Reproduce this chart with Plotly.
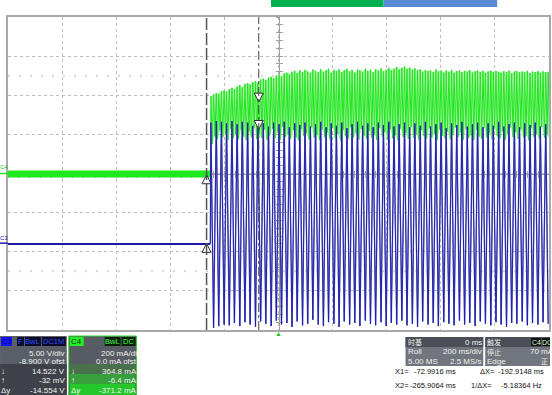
import plotly.graph_objects as go

# ---------------- data read from the screen ----------------
# time axis in ms (200 ms/div, 10 div), C4 in mA (200 mA/div), C3 in V (5 V/div, -8.9 V offset)
t_pre = [-1000, -252]
green_pre_ma = [-3, -3]
blue_pre_v = [-0.1, -0.1]

quarter_t = [
    -250, -245, -240, -235, -230, -225, -221, -216, -211, -206, -201, -196,
    -192, -187, -182, -177, -172, -167, -163, -158, -153, -148, -143, -138,
    -134, -129, -124, -119, -114, -109, -105, -100, -95, -90, -85, -80,
    -76, -71, -66, -61, -56, -51, -47, -42, -37, -32, -27, -22,
    -18, -13, -8, -3, 2, 7, 11, 16, 21, 26, 31, 36,
    40, 45, 50, 55, 60, 65, 69, 74, 79, 84, 89, 94,
    98, 103, 108, 113, 118, 123, 127, 132, 137, 142, 147, 152,
    156, 161, 166, 171, 176, 181, 185, 190, 195, 200, 205, 210,
    214, 219, 224, 229, 234, 239, 243, 248, 253, 258, 263, 268,
    272, 277, 282, 287, 292, 297, 301, 306, 311, 316, 321, 326,
    330, 335, 340, 345, 350, 355, 359, 364, 369, 374, 379, 384,
    388, 393, 398, 403, 408, 413, 417, 422, 427, 432, 437, 442,
    446, 451, 456, 461, 466, 471, 475, 480, 485, 490, 495, 500,
    504, 509, 514, 519, 524, 529, 533, 538, 543, 548, 553, 558,
    562, 567, 572, 577, 582, 587, 591, 596, 601, 606, 611, 616,
    620, 625, 630, 635, 640, 645, 649, 654, 659, 664, 669, 674,
    678, 683, 688, 693, 698, 703, 707, 712, 717, 722, 727, 732,
    736, 741, 746, 751, 756, 761, 765, 770, 775, 780, 785, 790,
    794, 799, 804, 809, 814, 819, 823, 828, 833, 838, 843, 848,
    852, 857, 862, 867, 872, 877, 881, 886, 891, 896, 901, 906,
    910, 915, 920, 925, 930, 935, 939, 944, 949, 954, 959, 964,
    968, 973, 978, 983, 988, 993, 997, 1002,
]

green_peak_ma = [
    395, 405, 412, 408, 420, 425, 418, 432, 438, 430,
    445, 452, 440, 458, 462, 455, 468, 472, 465, 480,
    485, 478, 490, 494, 486, 500, 505, 496, 512, 515,
    508, 520, 525, 512, 528, 518, 530, 522, 515, 532,
    525, 518, 534, 520, 528, 536, 515, 530, 524, 533,
    518, 529, 535, 522, 530, 516, 533, 527, 520, 536,
    524, 531, 518, 534, 526, 538, 522, 530, 540, 528,
    536, 545, 532, 540, 548, 535, 542, 530, 538, 526,
    534, 520, 530, 524, 528, 518, 532, 522, 527, 516,
    526, 520, 530, 515, 524, 528, 518, 525, 521, 529,
    516, 523, 527, 519, 525, 514, 522, 526, 518, 524,
    520, 515, 523, 519, 526, 512, 521, 524, 517, 522,
    518, 525, 513, 521, 519, 524, 515, 522, 518, 520,
]
green_trough_ma = [
    150, 190, 175, 220, 185, 205, 170, 230, 180, 200,
    175, 225, 190, 170, 215, 185, 235, 175, 200, 180,
    225, 170, 195, 230, 180, 210, 172, 238, 188, 200,
    176, 222, 184, 168, 228, 192, 205, 174, 236, 182,
    198, 170, 226, 186, 210, 175, 232, 180, 202, 168,
    224, 190, 178, 236, 184, 206, 172, 228, 194, 176,
    218, 182, 200, 170, 234, 188, 212, 174, 226, 180,
    196, 168, 230, 186, 208, 176, 238, 182, 200, 172,
    222, 190, 178, 232, 184, 204, 170, 226, 192, 180,
    216, 174, 198, 236, 186, 210, 172, 228, 182, 196,
    170, 224, 188, 178, 234, 184, 206, 174, 230, 190,
    180, 218, 172, 200, 236, 186, 212, 176, 226, 184,
    194, 170, 232, 188, 204, 178, 238, 182, 200, 176,
]
blue_high_v = [
    15.4, 15.6, 15.5, 15.3, 15.6, 15.2, 15.5, 15.4, 15.0, 15.5,
    15.3, 14.9, 15.4, 15.2, 15.5, 14.8, 15.3, 15.1, 15.4, 14.9,
    15.2, 15.5, 14.8, 15.3, 15.0, 15.4, 14.7, 15.2, 15.5, 15.0,
    15.3, 14.8, 15.4, 15.1, 15.5, 14.9, 15.2, 15.4, 14.8, 15.3,
    15.0, 15.5, 14.9, 15.2, 15.4, 14.7, 15.3, 15.1, 15.5, 14.9,
    15.2, 15.4, 14.8, 15.3, 15.0, 15.5, 14.9, 15.2, 15.4, 14.8,
    15.3, 15.1, 15.4, 14.9, 15.2,
]
blue_low_v = [
    -10.8, -10.6, -10.4, -10.5, -10.2, -10.6, -10.1, -10.4, -10.7, -10.0,
    -10.3, -10.6, -9.9, -10.4, -10.2, -10.7, -10.0, -10.5, -10.3, -9.8,
    -10.4, -10.6, -10.1, -10.3, -10.7, -10.0, -10.4, -10.2, -10.6, -9.9,
    -10.3, -10.5, -10.1, -10.6, -10.2, -10.4, -9.9, -10.5, -10.3, -10.7,
    -10.0, -10.4, -10.2, -10.6, -10.1, -10.3, -10.5, -9.9, -10.4, -10.2,
    -10.6, -10.0, -10.3, -10.5, -10.1, -10.4, -10.7, -10.2, -10.3, -10.0,
    -10.5, -10.2, -10.4, -10.1, -10.3,
]

cursor_names = ["X1", "X2"]
cursor_t = [-72.9916, -265.9064]
cursor_green_ma = [364.8, -6.4]
cursor_blue_v = [14.522, -0.032]

c3_scale, c3_offset = "5.00 V/div", "-8.900 V ofst"
c4_scale, c4_offset = "200 mA/di", "0.0 mA ofst"
timebase = ["0 ms", "Roll", "200 ms/div", "5.00 MS", "2.5 MS/s"]
trigger = ["C4", "DC", "停止", "70 mA", "Edge", "正"]

# ---------------- page geometry helpers ----------------
W, H = 552, 395
PL, PR, PT, PB = 8, 551, 17, 330


def px(X):
    return (X - PL) / (PR - PL)


def py(Y):
    return (PB - Y) / (PB - PT)


FONT = "Liberation Sans, Arial"
CJK = "Noto Sans CJK SC"

GREEN = "#1ee81e"
BLUE_DARK = "#1a1aa8"

fig = go.Figure()

# pale persistence band of C4
fig.add_trace(go.Scatter(x=quarter_t[1::2], y=green_trough_ma, mode="lines",
                         line=dict(width=0, color="rgba(0,0,0,0)"), hoverinfo="skip"))
fig.add_trace(go.Scatter(x=quarter_t[0::2], y=green_peak_ma, mode="lines", fill="tonexty",
                         fillcolor="#b9f1b3", line=dict(width=0, color="rgba(0,0,0,0)"),
                         hoverinfo="skip"))
# C4 flat part and oscillation
fig.add_trace(go.Scatter(x=t_pre, y=green_pre_ma, mode="lines",
                         line=dict(width=7, color=GREEN), hoverinfo="skip"))
green_osc = [v for pair in zip(green_peak_ma, green_trough_ma) for v in pair]
fig.add_trace(go.Scatter(x=[t_pre[-1]] + quarter_t, y=[green_pre_ma[-1]] + green_osc,
                         mode="lines", line=dict(width=1, color=GREEN), hoverinfo="skip"))

# C3
blue_osc = [v for pair in zip(blue_high_v, blue_low_v) for v in pair]
blue_x = [t_pre[-1]] + quarter_t[0::2]
blue_y = [blue_pre_v[-1]] + blue_osc
fig.add_trace(go.Scatter(x=t_pre, y=blue_pre_v, mode="lines", yaxis="y2",
                         line=dict(width=2, color=BLUE_DARK), hoverinfo="skip"))
fig.add_trace(go.Scatter(x=blue_x, y=blue_y, mode="lines", yaxis="y2",
                         line=dict(width=1.4, color="#7174b6"), hoverinfo="skip"))
fig.add_trace(go.Scatter(x=blue_x, y=blue_y, mode="lines", yaxis="y2",
                         line=dict(width=0.9, color="#1c1cb0"), hoverinfo="skip"))

# cursor arrows
arrow_syms = ["arrow-down", "arrow-up"]
fig.add_trace(go.Scatter(x=cursor_t, y=cursor_green_ma, mode="markers",
                         marker=dict(symbol=arrow_syms, size=9, color="white",
                                     line=dict(color="#303030", width=1)), hoverinfo="skip"))
fig.add_trace(go.Scatter(x=cursor_t, y=cursor_blue_v, mode="markers", yaxis="y2",
                         marker=dict(symbol=arrow_syms, size=9, color="white",
                                     line=dict(color="#303030", width=1)), hoverinfo="skip"))
# dummies to activate centre axes
for ya in ["y3", "y4"]:
    fig.add_trace(go.Scatter(x=[None], y=[None], yaxis=ya, hoverinfo="skip"))
for xa in ["x2", "x3"]:
    fig.add_trace(go.Scatter(x=[None], y=[None], xaxis=xa, hoverinfo="skip"))

shapes = []
ann = []

# cursor lines
shapes.append(dict(type="line", xref="x", yref="paper", x0=cursor_t[1], x1=cursor_t[1], y0=0, y1=1,
                   line=dict(color="#555555", width=1.5, dash="12px,3px"), layer="above"))
shapes.append(dict(type="line", xref="x", yref="paper", x0=cursor_t[0], x1=cursor_t[0], y0=0, y1=1,
                   line=dict(color="#444444", width=1, dash="dashdot"), layer="above"))
# faint dotted rows at +-2.5 div
for yv in (500, -500):
    shapes.append(dict(type="line", xref="paper", yref="y", x0=0, x1=1, y0=yv, y1=yv,
                       line=dict(color="#d6d6d6", width=2, dash="2px,9px"), layer="below"))


def rect(x0, y0, x1, y1, fill, lc=None, lw=0):
    shapes.append(dict(type="rect", xref="paper", yref="paper", x0=px(x0), x1=px(x1),
                       y0=py(y1), y1=py(y0), fillcolor=fill,
                       line=dict(color=lc or fill, width=lw), layer="above"))


def text(x, y, s, anchor="left", color="#f2f2f2", size=8, family=FONT):
    ann.append(dict(x=px(x), y=py(y), xref="paper", yref="paper", text=s, showarrow=False,
                    xanchor=anchor, yanchor="middle", borderpad=0, borderwidth=0,
                    font=dict(family=family, size=size, color=color)))


# top status bars
rect(272, 0, 385, 7, "#00b050")
rect(385, 0, 499, 7, "#5b8bd5")

# channel markers on the left
shapes.append(dict(type="line", xref="paper", yref="y", x0=px(0), x1=px(8), y0=0, y1=0,
                   line=dict(color=GREEN, width=1.5)))
text(0, 167, "C4", color="#20c020", size=6)
shapes.append(dict(type="line", xref="paper", yref="y2", x0=px(0), x1=px(8), y0=0, y1=0,
                   line=dict(color="#2020b0", width=1.5)))
text(0, 238, "C3", color="#2020a0", size=6)

# trigger position marker
ann.append(dict(x=0, y=py(333), xref="x", yref="paper", text="▲", showarrow=False,
                yanchor="middle", font=dict(size=7, color="#22cc22")))

# ---- C3 box ----
rect(0, 336, 67, 395, "#5a5e66")
rect(0, 364, 67, 395, "#3e4148")
rect(1, 337, 12, 346, "#1414f0")
text(2, 341.5, "C3", color="#0000a0", size=7.5)
rect(17, 337, 24, 346, "#0c0c28")
text(20.5, 341.5, "F", anchor="center", color="#2a4cff", size=7.5)
rect(25, 337, 41, 346, "#0c0c28")
text(33, 341.5, "BwL", anchor="center", color="#2a4cff", size=7.5)
rect(42, 337, 66, 346, "#0c0c28")
text(54, 341.5, "DC1M", anchor="center", color="#2a4cff", size=7.5)
text(65, 353, c3_scale, anchor="right")
text(65, 361.5, c3_offset, anchor="right")
text(1, 371, "↓", size=8)
text(65, 371, f"{cursor_blue_v[0]:.3f} V", anchor="right")
text(1, 380, "↑", size=8)
text(65, 380, f"{cursor_blue_v[1]*1000:.0f} mV", anchor="right")
text(1, 390, "Δy", size=8)
text(65, 390, f"{cursor_blue_v[1]-cursor_blue_v[0]:.3f} V", anchor="right")

# ---- C4 box ----
rect(69, 336, 137, 395, "#575b63", lc="#30d030", lw=1)
rect(70, 364, 136, 374, "#47704b")
rect(70, 374, 136, 384, "#37a03c")
rect(70, 384, 136, 395, "#24c82a")
rect(70, 337, 84, 346, "#22ee22")
text(71, 341.5, "C4", color="#0a300a", size=8)
rect(105, 337, 121, 346, "#0a200a")
text(113, 341.5, "BwL", anchor="center", color="#40ff40", size=7.5)
rect(122, 337, 136, 346, "#0a200a")
text(129, 341.5, "DC", anchor="center", color="#40ff40", size=7.5)
text(137, 353, c4_scale, anchor="right")
text(137, 361.5, c4_offset, anchor="right")
text(71, 371, "↓", size=8)
text(137, 371, f"{cursor_green_ma[0]:.1f} mA", anchor="right")
text(71, 380, "↑", size=8)
text(137, 380, f"{cursor_green_ma[1]:.1f} mA", anchor="right")
text(71, 390, "Δy", size=8)
text(137, 390, f"{cursor_green_ma[1]-cursor_green_ma[0]:.1f} mA", anchor="right")

# ---- timebase box ----
rect(407, 337, 485, 366, "#71757d")
rect(407, 337, 485, 347, "#4b4e56")
text(409, 342, "时基", family=CJK, size=7)
text(484, 342, timebase[0], anchor="right")
text(409, 351.5, timebase[1])
text(484, 351.5, timebase[2], anchor="right")
text(409, 361, timebase[3])
text(484, 361, timebase[4], anchor="right")

# ---- trigger box ----
rect(487, 337, 552, 366, "#71757d")
rect(487, 337, 552, 347, "#4b4e56")
text(489, 341.5, "触发", family=CJK, size=7)
rect(533, 338, 543, 346, "#111111")
text(538, 342, trigger[0], anchor="center", color="#c8ffc8", size=7)
rect(544, 338, 552, 346, "#111111")
text(544, 342, trigger[1], color="#c8ffc8", size=7)
text(489, 352, trigger[2], family=CJK, size=7)
text(556, 351.5, trigger[3], anchor="right")
text(489, 361, trigger[4])
text(550, 361, trigger[5], anchor="right", family=CJK, size=7)

# ---- cursor readout ----
RD = "#111111"
dx = cursor_t[1] - cursor_t[0]
text(396, 371, "X1=", color=RD, size=7.5)
text(458, 371, f"{cursor_t[0]:.4f} ms", anchor="right", color=RD, size=7.5)
text(482, 371, "ΔX=", color=RD, size=7.5)
text(500, 371, f"{dx:.4f} ms", color=RD, size=7.5)
text(396, 385, "X2=", color=RD, size=7.5)
text(458, 385, f"{cursor_t[1]:.4f} ms", anchor="right", color=RD, size=7.5)
text(473, 385, "1/ΔX=", color=RD, size=7.5)
text(503, 385, f"{1000.0/dx:.5f} Hz", color=RD, size=7.5)

axis_common = dict(showticklabels=False, zeroline=False)
fig.update_layout(
    width=W, height=H,
    margin=dict(l=PL, r=W - PR, t=PT, b=H - PB, pad=0),
    paper_bgcolor="white", plot_bgcolor="white", showlegend=False,
    xaxis=dict(range=[-1000, 1000], dtick=200, tick0=0, showgrid=True, gridcolor="#bdbdbd",
               griddash="dot", gridwidth=1, ticks="", showline=True, mirror=True,
               linecolor="#a8a8a8", linewidth=1.5, **axis_common),
    yaxis=dict(range=[-800, 800], dtick=200, tick0=0, showgrid=True, gridcolor="#bdbdbd",
               griddash="dot", gridwidth=1, ticks="", showline=True, mirror=True,
               linecolor="#a8a8a8", linewidth=1.5, **axis_common),
    yaxis2=dict(range=[-11.1, 28.9], overlaying="y", showgrid=False, visible=False, **axis_common),
    yaxis3=dict(range=[-800, 800], overlaying="y", anchor="free", position=0.5, side="left",
                showline=True, linecolor="#a0a0a0", linewidth=1, ticks="outside", ticklen=3,
                tickcolor="#a0a0a0", dtick=40, tick0=0, showgrid=False, layer="below traces",
                **axis_common),
    yaxis4=dict(range=[-800, 800], overlaying="y", anchor="free", position=0.5, side="left",
                showline=False, ticks="inside", ticklen=3, tickcolor="#a0a0a0", dtick=40, tick0=0,
                showgrid=False, layer="below traces", **axis_common),
    xaxis2=dict(range=[-1000, 1000], overlaying="x", anchor="free", position=0.5, side="bottom",
                showline=True, linecolor="#a0a0a0", linewidth=1, ticks="outside", ticklen=3,
                tickcolor="#a0a0a0", dtick=40, tick0=0, showgrid=False, layer="below traces",
                **axis_common),
    xaxis3=dict(range=[-1000, 1000], overlaying="x", anchor="free", position=0.5, side="bottom",
                showline=False, ticks="inside", ticklen=3, tickcolor="#a0a0a0", dtick=40, tick0=0,
                showgrid=False, layer="below traces", **axis_common),
    shapes=shapes,
    annotations=ann,
)

fig.write_html("out.html", config={"displayModeBar": False},
               post_script="document.body.style.margin='0px';document.body.style.padding='0px';")
